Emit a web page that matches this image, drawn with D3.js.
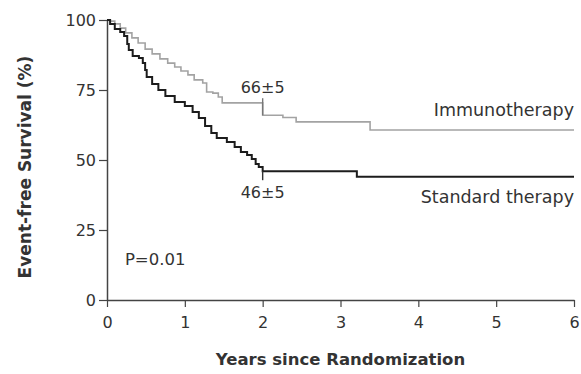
<!DOCTYPE html>
<html>
<head>
<meta charset="utf-8">
<script src="https://cdn.jsdelivr.net/npm/d3@7/dist/d3.min.js"></script>
<style>
  html, body { margin: 0; padding: 0; background: #fff; }
  svg { display: block; }
  text { font-family: "DejaVu Sans", sans-serif; fill: #333; }
</style>
</head>
<body>
<svg id="chart" width="581" height="374"></svg>
<script>
// Kaplan-Meier estimates: years since randomization and event-free survival (%)
const immunoYears = [0, 0.04, 0.10, 0.17, 0.24, 0.32, 0.40, 0.49, 0.58, 0.68, 0.78, 0.87, 0.95, 1.04, 1.12, 1.23, 1.28, 1.36, 1.43, 1.48, 2.00, 2.26, 2.43, 3.38, 6.00];
const immunoSurv  = [100, 99.6, 98.6, 97.1, 95.4, 93.6, 91.8, 89.6, 87.9, 86.1, 84.6, 83.2, 81.8, 80.4, 78.6, 77.5, 74.3, 73.9, 72.5, 70.4, 66, 65.2, 63.6, 60.7, 60.7];

const standardYears = [0, 0.04, 0.10, 0.17, 0.22, 0.26, 0.28, 0.33, 0.41, 0.46, 0.49, 0.51, 0.58, 0.66, 0.75, 0.87, 1.00, 1.10, 1.18, 1.26, 1.34, 1.41, 1.54, 1.64, 1.72, 1.80, 1.86, 1.91, 1.95, 2.00, 3.21, 6.00];
const standardSurv  = [100, 98.6, 96.8, 95.7, 94.3, 91.4, 89.3, 87.1, 86.4, 84.6, 82.1, 79.6, 77.1, 75, 72.9, 70.7, 69.3, 67.1, 65, 62.1, 59.6, 57.9, 56.4, 54.6, 52.9, 51.8, 50.4, 48.6, 47.5, 46, 44, 44];

const xTicks = [0, 1, 2, 3, 4, 5, 6];
const yTicks = [0, 25, 50, 75, 100];

// Two-year estimates (±SE) shown on the curves
const immunoAt2 = { year: 2, value: 66, se: 5 };
const standardAt2 = { year: 2, value: 46, se: 5 };
const pValueText = "P=0.01";

const margin = { top: 20, right: 7, bottom: 74, left: 107 };
const W = 581, H = 374;
const innerW = W - margin.left - margin.right;
const innerH = H - margin.top - margin.bottom;

const svg = d3.select("#chart");
const g = svg.append("g").attr("transform", `translate(${margin.left},${margin.top})`);

const x = d3.scaleLinear().domain([0, 6]).range([0, innerW]);
const y = d3.scaleLinear().domain([0, 100]).range([innerH, 0]);

// Axes
const xAxis = g.append("g")
  .attr("transform", `translate(0,${innerH})`)
  .call(d3.axisBottom(x).tickValues(xTicks).tickSize(7).tickSizeOuter(0).tickPadding(10).tickFormat(d3.format("d")));
const yAxis = g.append("g")
  .call(d3.axisLeft(y).tickValues(yTicks).tickSize(8).tickSizeOuter(0).tickPadding(3).tickFormat(d3.format("d")));

[xAxis, yAxis].forEach(a => {
  a.select(".domain").attr("stroke", "#444").attr("stroke-width", 1.5);
  a.selectAll(".tick line").attr("stroke", "#444").attr("stroke-width", 1.2);
  a.selectAll(".tick text")
    .attr("fill", "#444")
    .style("font-family", "'DejaVu Sans', sans-serif")
    .style("font-size", "16px");
});

// Survival curves (step functions)
const line = d3.line()
  .x(d => x(d[0]))
  .y(d => y(d[1]))
  .curve(d3.curveStepAfter);

const immunoData = immunoYears.map((t, i) => [t, immunoSurv[i]]);
const standardData = standardYears.map((t, i) => [t, standardSurv[i]]);

g.append("path")
  .datum(immunoData)
  .attr("fill", "none")
  .attr("stroke", "#a3a3a3")
  .attr("stroke-width", 1.6)
  .attr("d", line);

g.append("path")
  .datum(standardData)
  .attr("fill", "none")
  .attr("stroke", "#1c1c1c")
  .attr("stroke-width", 2)
  .attr("d", line);

// Markers at two years
g.append("line")
  .attr("x1", x(immunoAt2.year)).attr("x2", x(immunoAt2.year))
  .attr("y1", y(immunoAt2.value)).attr("y2", y(immunoAt2.value) - 17)
  .attr("stroke", "#777").attr("stroke-width", 1.4);
g.append("line")
  .attr("x1", x(standardAt2.year)).attr("x2", x(standardAt2.year))
  .attr("y1", y(standardAt2.value)).attr("y2", y(standardAt2.value) + 9)
  .attr("stroke", "#333").attr("stroke-width", 1.4);

g.append("text")
  .attr("x", x(immunoAt2.year)).attr("y", y(immunoAt2.value) - 22)
  .attr("text-anchor", "middle")
  .style("font-size", "16px")
  .text(`${immunoAt2.value}±${immunoAt2.se}`);
g.append("text")
  .attr("x", x(standardAt2.year)).attr("y", y(standardAt2.value) + 27)
  .attr("text-anchor", "middle")
  .style("font-size", "16px")
  .text(`${standardAt2.value}±${standardAt2.se}`);

// Curve labels
g.append("text")
  .attr("x", x(6)).attr("y", y(immunoSurv[immunoSurv.length - 1]) - 14)
  .attr("text-anchor", "end")
  .style("font-size", "17.5px")
  .text("Immunotherapy");
g.append("text")
  .attr("x", x(6)).attr("y", y(standardSurv[standardSurv.length - 1]) + 26)
  .attr("text-anchor", "end")
  .style("font-size", "17.5px")
  .text("Standard therapy");

// P value
g.append("text")
  .attr("x", x(0.23)).attr("y", y(12.5))
  .style("font-size", "16.5px")
  .text(pValueText);

// Axis titles
svg.append("text")
  .attr("x", margin.left + x(3)).attr("y", 365)
  .attr("text-anchor", "middle")
  .style("font-size", "16.5px")
  .style("font-weight", "bold")
  .text("Years since Randomization");
svg.append("text")
  .attr("transform", `translate(31,${margin.top + y(50) + 7}) rotate(-90)`)
  .attr("text-anchor", "middle")
  .style("font-size", "17px")
  .style("font-weight", "bold")
  .text("Event-free Survival (%)");
</script>
</body>
</html>
